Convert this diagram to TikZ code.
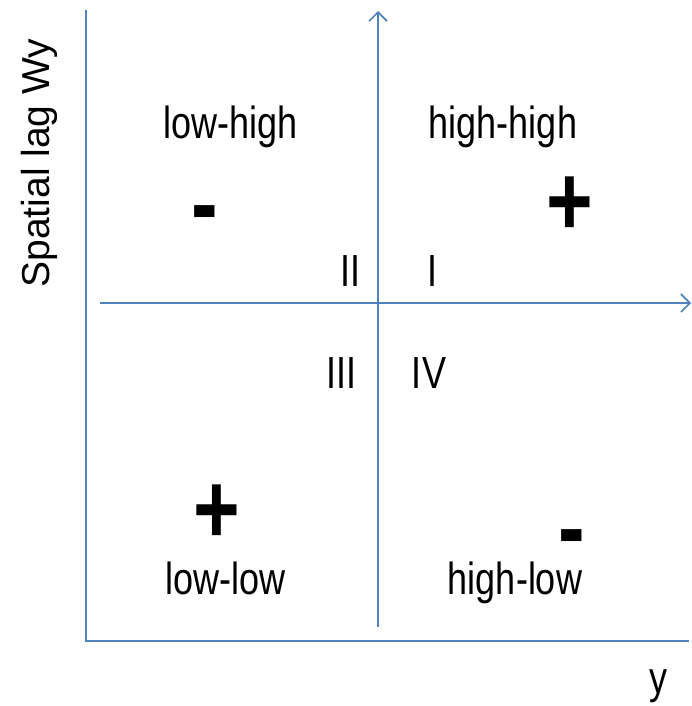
\documentclass[tikz,border=0pt]{standalone}
\usepackage{fontspec}
\setmainfont{Liberation Sans}[FakeStretch=0.8]
\newfontfamily\axisfont{Liberation Sans}
\usetikzlibrary{arrows.meta}
\definecolor{axisblue}{RGB}{79,129,189}
\begin{document}
\begin{tikzpicture}[x=1pt,y=-1pt,
  axis/.style={draw=axisblue,line width=1.6pt},
  lbl/.style={inner sep=0pt,anchor=base,font=\fontsize{45}{54}\selectfont},
  sgn/.style={inner sep=0pt,anchor=base,text depth=0pt,font=\fontsize{100}{110}\selectfont\bfseries},
  arr/.style={-{Straight Barb[length=9pt,width=18pt,line width=1.6pt]}}]
\useasboundingbox (0,0) rectangle (692,706);
% frame axes
\coordinate (ltop) at (86,10);
\coordinate (lcorner) at (86,641);
\coordinate (lright) at (689,641);
\draw[axis] (ltop) -- (lcorner) -- (lright);
% cross axes
\coordinate (vbot) at (378,627);
\coordinate (vtop) at (378,11);
\coordinate (hleft) at (100,303);
\coordinate (hright) at (691,303);
\draw[axis,arr] (vbot) -- (vtop);
\draw[axis,arr] (hleft) -- (hright);
% labels
\node[lbl] (lh) at (231,138) {low-high};
\node[lbl] (hh) at (503,138) {high-high};
\node[lbl] (ll) at (226,594) {low-low};
\node[lbl] (hl) at (515,594) {high-low};
\node[lbl] (q2) at (350,286) {II};
\node[lbl] (q1) at (432,286) {I};
\node[lbl] (q3) at (341,388) {III};
\node[lbl] (q4) at (429,388) {IV};
\node[lbl] (ylab) at (658,693) {y};
\node[inner sep=0pt,anchor=base,rotate=90,font=\axisfont\fontsize{39}{46}\selectfont] (wylab) at (49,163) {Spatial lag Wy};
% signs
\node[sgn] (s1) at (205,237) {-};
\node[sgn] (s2) at (570,235) {+};
\node[sgn] (s3) at (217,543) {+};
\node[sgn] (s4) at (572,561) {-};
\end{tikzpicture}
\end{document}
